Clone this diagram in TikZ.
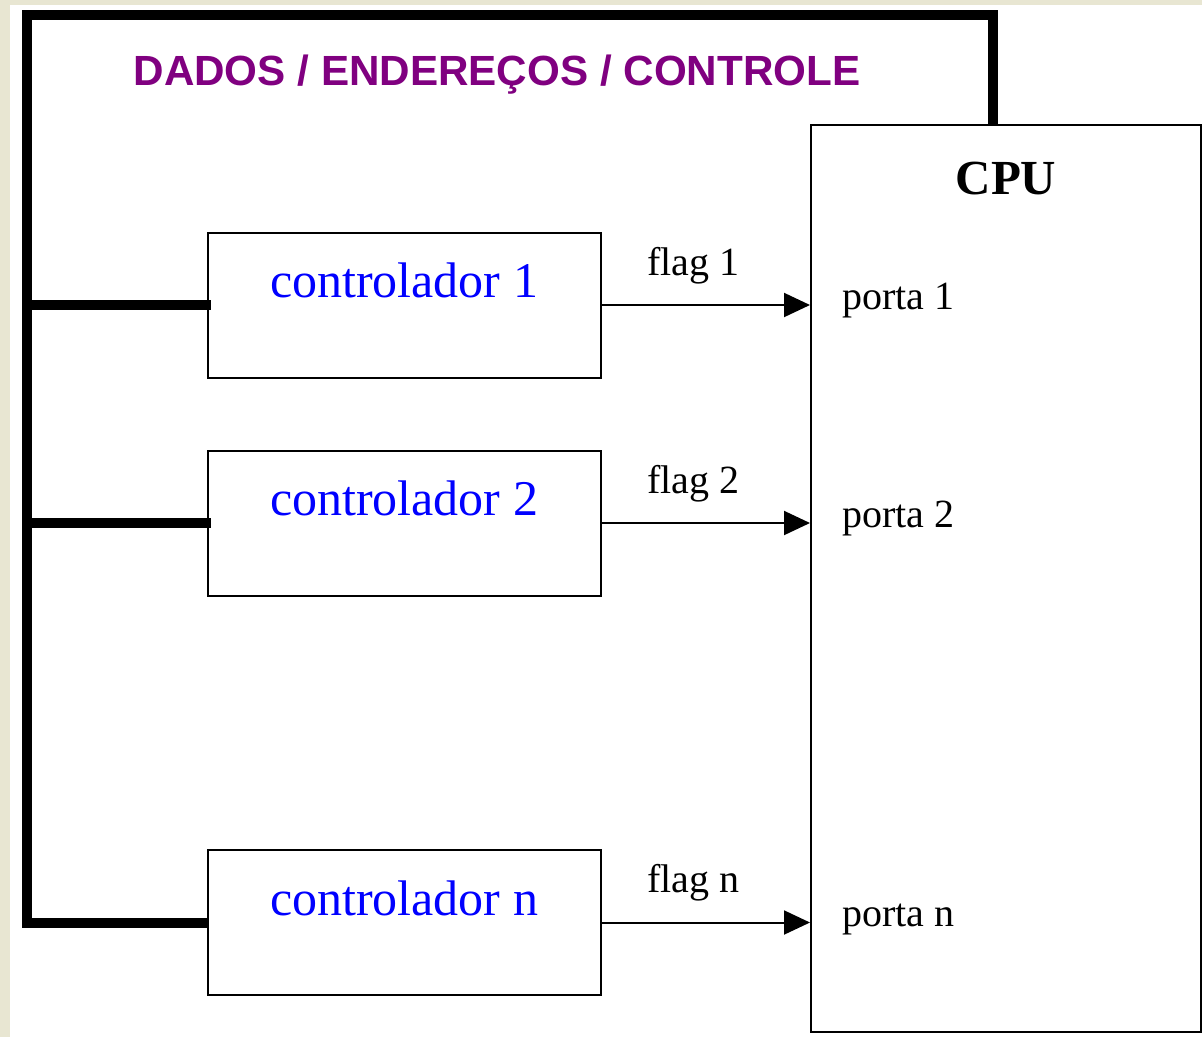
\documentclass[tikz,border=0pt]{standalone}
\usepackage{fontspec}
\setmainfont{Liberation Serif}
\newfontfamily\busfont{Liberation Sans}
\usepackage{tikz}
\usetikzlibrary{arrows.meta}
\usetikzlibrary{positioning}
\definecolor{paper}{RGB}{232,230,210}
\definecolor{busviolet}{RGB}{128,0,128}
\definecolor{ctrlblue}{RGB}{0,0,255}

\tikzset{
    ctrlbox/.style={draw, line width=2pt, minimum width=393pt, inner sep=0pt,
        text height=65pt, text depth=80pt, text=ctrlblue,
        font=\fontsize{50}{56}\selectfont},
    cpubox/.style={draw, line width=2pt, minimum width=390pt,
        minimum height=907pt, inner sep=0pt},
    bus/.style={line width=10pt},
    flagarrow/.style={line width=2pt, -{Triangle[length=26pt,width=24pt]}},
    flaglabel/.style={anchor=base, yshift=30pt, font=\fontsize{40}{44}\selectfont},
    portlabel/.style={anchor=base west, xshift=29pt, yshift=-4pt,
        font=\fontsize{40}{44}\selectfont}
}

\begin{document}
\begin{tikzpicture}[x=1pt,y=-1pt]
    \fill[paper] (0,0) rectangle (1202,1037);
    \fill[white] (10,5) rectangle (1202,1037);

    \node[cpubox] (cpu) at (1006,578.5) {}; \node[anchor=base,
    font=\fontsize{49}{54}\selectfont\bfseries] (cpuname) at
    ([yshift=-70pt]cpu.north) {CPU};

    \node[ctrlbox] (ctrl1) at (404,305) {controlador 1}; \node[ctrlbox]
    (ctrl2) at (404,523) {controlador 2}; \node[ctrlbox] (ctrln) at
    (404,922.5) {controlador n};

    \node[anchor=base west, text=busviolet,
    font=\busfont\fontsize{42.2}{46}\selectfont\bfseries] (busname) at
    (130,85) {DADOS / ENDEREÇOS / CONTROLE};

    % barramento
    \coordinate (buscorner) at (27,15);
    \draw[bus] ([xshift=-13pt]cpu.north) |- (buscorner) |- (ctrln.west);
    \draw[bus] (ctrl1.west -| buscorner) -- ([xshift=4pt]ctrl1.west);
    \draw[bus] (ctrl2.west -| buscorner) -- ([xshift=4pt]ctrl2.west);

    % flags
    \draw[flagarrow] (ctrl1.east) -- node[flaglabel, pos=0.44] {flag 1}
    (ctrl1.east -| cpu.west); \draw[flagarrow] (ctrl2.east) --
    node[flaglabel, pos=0.44] {flag 2} (ctrl2.east -| cpu.west);
    \draw[flagarrow] (ctrln.east) -- node[flaglabel, pos=0.44] {flag n}
    (ctrln.east -| cpu.west);

    \node[portlabel] (porta1) at (ctrl1.east -| cpu.west) {porta 1};
    \node[portlabel] (porta2) at (ctrl2.east -| cpu.west) {porta 2};
    \node[portlabel] (portan) at (ctrln.east -| cpu.west) {porta n};
\end{tikzpicture}
\end{document}
